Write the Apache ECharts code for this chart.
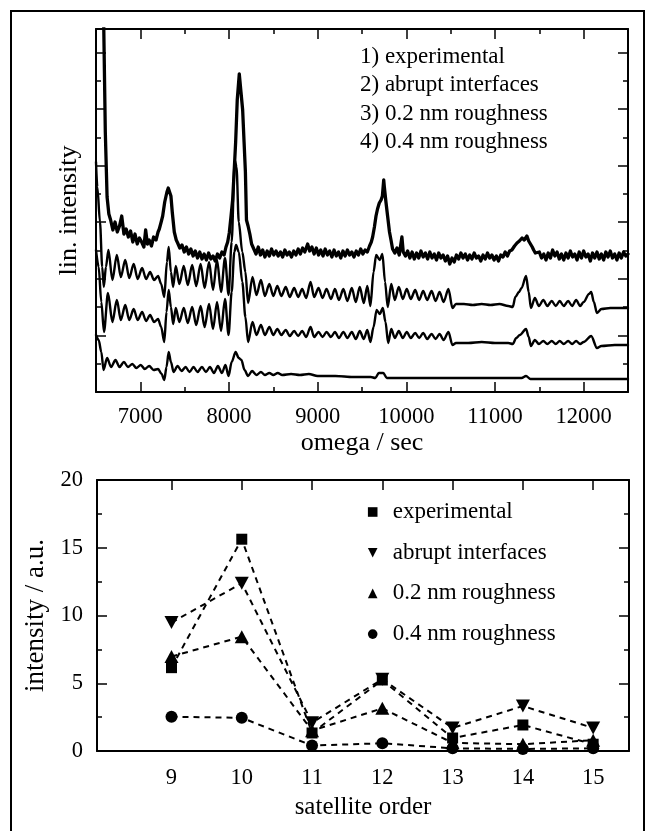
<!DOCTYPE html>
<html><head><meta charset="utf-8">
<script src="https://cdn.jsdelivr.net/npm/echarts@6/dist/echarts.min.js"></script>
<style>html,body{margin:0;padding:0;background:#fff}#c{width:647px;height:831px}</style>
</head><body><div id="c"></div>
<script>
// ---------- top panel: scans (omega / sec, linear intensity in arbitrary units) ----------
const scanLabels = ['1) experimental', '2) abrupt interfaces', '3) 0.2 nm roughness', '4) 0.4 nm roughness'];
const omegaMajorTicks = [7000, 8000, 9000, 10000, 11000, 12000];
const omegaMinorTicks = [7500, 8500, 9500, 10500, 11500];
const intensityMajorTicks = [56.6, 113.2, 169.8, 226.4, 283, 339.6];
const intensityMinorTicks = [28.3, 84.9, 141.5, 198.1, 254.7, 311.3];

const scanExperimental = [
[6500,520],[6560,470],[6585,380],[6605,260],[6625,195],[6645,178],[6665,172],
[6690,162],[6715,170],[6740,160],[6765,166],[6790,176],[6815,158],[6840,163],[6865,155],[6890,161],[6915,150],
[6940,158],[6965,148],[6990,154],[7015,150],[7040,145],[7060,162],[7080,148],[7100,152],[7125,146],[7150,155],
[7177,152],[7200,160],[7214,163],[7235,170],[7252,176],[7275,190],[7300,200],[7315,204],[7330,200],[7345,196],
[7360,180],[7383,160],[7405,152],[7421,149],[7445,144],[7470,147],[7495,140],[7520,145],[7545,138],[7570,143],
[7595,136],[7620,141],[7645,134],[7670,140],[7695,133],[7720,138],[7745,132],[7770,139],[7795,133],[7820,136],
[7845,131],[7870,138],[7895,134],[7920,140],[7945,137],[7966,145],[7985,150],[8003,159],[8022,175],[8041,192],
[8059,222],[8075,250],[8093,292],[8116,318],[8135,300],[8154,282],[8170,250],[8185,220],[8197,172],[8215,166],
[8235,158],[8255,148],[8280,143],[8305,138],[8330,145],[8355,137],[8380,142],[8405,135],[8430,141],[8455,136],
[8480,143],[8505,137],[8530,141],[8555,136],[8580,140],[8605,135],[8630,142],[8655,137],[8680,140],[8705,135],
[8730,141],[8755,137],[8780,143],[8805,138],[8830,144],[8855,140],[8887,148],[8910,141],[8935,145],[8960,138],
[8985,144],[9010,137],[9035,142],[9060,136],[9085,143],[9110,137],[9135,141],[9160,135],[9185,142],[9210,136],
[9235,140],[9260,134],[9285,141],[9310,136],[9335,142],[9360,137],[9385,140],[9410,135],[9435,141],[9460,137],
[9485,143],[9510,138],[9535,142],[9560,140],[9585,146],[9605,150],[9620,155],[9640,165],[9658,176],[9675,183],
[9695,189],[9715,192],[9730,196],[9745,212],[9752,205],[9770,190],[9790,175],[9810,160],[9827,152],[9845,143],
[9870,139],[9895,144],[9920,137],[9950,155],[9965,140],[9990,136],[10015,141],[10040,134],[10065,140],[10090,133],
[10115,139],[10140,134],[10165,141],[10190,135],[10215,139],[10240,133],[10265,140],[10290,134],[10315,138],[10340,132],
[10365,139],[10390,134],[10415,137],[10440,131],[10465,136],[10490,128],[10515,134],[10540,130],[10565,137],[10590,133],
[10615,139],[10640,134],[10665,138],[10690,132],[10715,137],[10740,133],[10765,139],[10790,134],[10815,136],[10840,131],
[10865,137],[10890,133],[10915,139],[10940,134],[10965,137],[10990,132],[11015,136],[11040,131],[11065,137],[11090,135],
[11115,140],[11140,136],[11165,141],[11190,142],[11220,146],[11248,149],[11275,151],[11305,154],[11330,152],[11360,156],
[11380,151],[11398,150],[11420,145],[11436,142],[11455,139],[11474,137],[11500,140],[11525,134],[11550,138],[11575,132],
[11600,139],[11625,134],[11650,142],[11675,136],[11700,140],[11725,133],[11750,138],[11775,132],[11800,139],[11825,134],
[11850,141],[11875,135],[11900,138],[11925,132],[11950,140],[11975,134],[12000,141],[12025,135],[12050,138],[12075,131],
[12100,139],[12125,134],[12150,140],[12175,133],[12200,138],[12225,132],[12250,140],[12275,135],[12300,141],[12325,134],
[12350,138],[12375,132],[12400,139],[12425,134],[12450,140],[12475,136],[12500,138]
];

const scanAbrupt = [
[6500,230],[6515,205],[6545,170],[6570,125],[6588,105],[6612,125],[6640,142],
[6685,112],[6735,137],[6780,115],[6830,132],[6875,114],[6925,128],[6970,113],[7020,124],[7065,113],[7110,120],
[7155,112],[7200,116],[7235,108],[7270,95],[7300,130],[7320,145],[7345,120],[7370,105],
[7400,126],[7440,108],[7490,126],[7535,107],[7585,127],[7630,106],[7680,128],[7725,104],[7775,130],[7820,102],
[7865,132],[7910,100],[7955,134],[7995,97],[8030,150],[8065,232],[8085,225],[8110,170],[8150,140],[8185,120],
[8215,89],[8265,115],[8310,97],[8360,112],[8405,96],[8455,108],[8500,96],[8545,106],[8590,96],[8640,105],
[8685,95],[8735,104],[8780,95],[8825,103],[8870,94],[8920,110],[8960,95],[9010,104],[9055,94],[9100,103],
[9150,93],[9195,103],[9240,92],[9290,103],[9335,91],[9385,104],[9430,90],[9475,105],[9520,89],[9560,106],
[9595,86],[9630,120],[9660,137],[9700,132],[9730,138],[9760,110],[9790,85],[9830,108],[9870,92],[9915,105],
[9960,93],[10005,103],[10050,93],[10100,102],[10145,92],[10190,101],[10235,92],[10285,101],[10330,91],[10375,100],
[10420,90],[10475,103],[10520,84],[10560,88],[10650,88],[10750,87],[10850,88],[10950,87],[11050,88],[11150,86],
[11200,85],[11230,95],[11270,100],[11300,104],[11350,116],[11380,100],[11405,84],[11450,94],[11495,86],[11545,92],
[11590,86],[11640,91],[11685,86],[11730,91],[11775,86],[11825,91],[11870,86],[11915,92],[11960,86],[12000,90],
[12060,98],[12085,100],[12115,90],[12150,79],[12200,83],[12300,84],[12400,84],[12500,84]
];

const scanRough02 = [
[6500,142],[6530,125],[6560,90],[6590,60],[6635,99],
[6685,70],[6735,92],[6780,72],[6830,87],[6875,72],[6925,83],[6970,72],[7020,80],[7065,71],[7110,77],
[7155,70],[7200,73],[7235,65],[7270,50],[7295,80],[7320,102],[7345,85],[7370,68],
[7400,84],[7440,70],[7490,84],[7535,69],[7585,85],[7630,67],[7680,86],[7725,65],[7775,88],[7820,63],
[7865,90],[7910,61],[7955,93],[7995,57],[8030,100],[8060,140],[8080,147],[8110,140],[8150,110],[8185,75],
[8215,50],[8265,70],[8310,57],[8360,67],[8405,57],[8455,65],[8500,57],[8545,63],[8590,57],[8640,62],
[8685,56],[8735,61],[8780,56],[8825,61],[8870,55],[8920,65],[8960,55],[9010,60],[9055,55],[9100,60],
[9150,55],[9195,60],[9240,54],[9290,60],[9335,54],[9385,60],[9430,53],[9475,61],[9520,53],[9560,62],
[9595,50],[9630,65],[9665,82],[9700,78],[9735,84],[9765,70],[9795,49],[9830,63],[9870,54],[9915,61],
[9960,54],[10005,60],[10050,54],[10100,59],[10145,54],[10190,59],[10235,53],[10285,58],[10330,53],[10375,58],
[10420,52],[10475,60],[10520,47],[10560,49],[10700,49],[10850,50],[11000,49],[11150,49],[11200,48],
[11240,54],[11280,57],[11350,63],[11380,55],[11405,46],[11450,52],[11495,48],[11545,51],[11590,48],[11640,51],
[11685,48],[11730,51],[11775,48],[11825,51],[11870,48],[11915,51],[11960,48],[12000,50],[12085,56],[12150,44],
[12200,46],[12350,47],[12500,47]
];

const scanRough04 = [
[6500,57],[6530,52],[6560,40],[6585,22],[6625,34],[6670,25],[6720,32],[6765,25],[6815,30],[6860,25],
[6910,28],[6955,24],[7005,27],[7050,23],[7100,26],[7150,22],[7200,23],[7240,18],[7270,12],[7295,25],
[7320,40],[7345,30],[7375,20],[7420,26],[7465,21],[7510,25],[7555,20],[7600,25],[7645,20],[7695,25],
[7740,20],[7785,25],[7830,19],[7875,26],[7920,19],[7960,27],[7995,16],[8030,30],[8075,40],[8110,34],
[8140,32],[8175,22],[8215,16],[8260,21],[8310,17],[8360,20],[8405,17],[8455,19],[8500,17],[8550,19],
[8600,17],[8700,18],[8800,17],[8900,18],[9000,16],[9200,16],[9400,15],[9600,15],[9650,14],[9690,19],
[9740,19],[9780,14],[9850,14],[10000,14],[10500,14],[11000,14],[11300,14],[11350,16],[11400,13],[12000,13],
[12500,13]
];

// ---------- bottom panel: satellite intensities ----------
const satelliteOrder = [9, 10, 11, 12, 13, 14, 15];
const seriesNames = ['experimental', 'abrupt interfaces', '0.2 nm roughness', '0.4 nm roughness'];
const satExperimental = [6.15, 15.63, 1.33, 5.24, 0.96, 1.92, 0.5];
const satAbrupt       = [9.48, 12.38, 2.09, 5.3, 1.7, 3.32, 1.7];
const satRough02      = [6.97, 8.44, 1.5, 3.15, 0.6, 0.5, 0.8];
const satRough04      = [2.53, 2.45, 0.4, 0.57, 0.2, 0.15, 0.2];

// ---------- styling ----------
const FONT = "'Liberation Serif', 'Times New Roman', serif";
const BLACK = '#000';
const lineAx = {show: true, onZero: false, lineStyle: {color: BLACK, width: 2}};
const noLine = {show: false, onZero: false};
const tick = (len, values) => ({show: true, inside: true, length: len, customValues: values, lineStyle: {color: BLACK, width: 1.5}});
const noLabel = {show: false};
const nameStyle = size => ({fontFamily: FONT, fontSize: size, color: BLACK});
const labelStyle = {fontFamily: FONT, fontSize: 22.5, color: BLACK};
const plain = v => String(v);

function topX(pos, line, t) {
  return {gridIndex: 0, type: 'value', position: pos, min: 6500, max: 12500,
    axisLine: line ? lineAx : noLine, axisTick: t, axisLabel: noLabel, splitLine: {show: false}};
}
function topY(pos, line, t) {
  return {gridIndex: 0, type: 'value', position: pos, min: 0, max: 363,
    axisLine: line ? lineAx : noLine, axisTick: t, axisLabel: noLabel, splitLine: {show: false}};
}

const xAxes = [
  Object.assign(topX('bottom', true, tick(10, omegaMajorTicks)), {
    axisLabel: Object.assign({show: true, customValues: omegaMajorTicks, margin: 14, formatter: plain}, labelStyle),
    name: 'omega / sec', nameLocation: 'middle', nameGap: 38, nameTextStyle: nameStyle(26)}),
  topX('bottom', false, tick(5, omegaMinorTicks)),
  topX('top', true, tick(10, omegaMajorTicks)),
  topX('top', false, tick(5, omegaMinorTicks)),
  {gridIndex: 1, type: 'value', position: 'bottom', min: 7.94, max: 15.51,
    axisLine: lineAx, axisTick: {show: false},
    axisLabel: Object.assign({show: true, customValues: satelliteOrder, margin: 16, formatter: plain}, labelStyle),
    splitLine: {show: false},
    name: 'satellite order', nameLocation: 'middle', nameGap: 44, nameTextStyle: nameStyle(25)},
  {gridIndex: 1, type: 'value', position: 'top', min: 7.94, max: 15.51,
    axisLine: lineAx, axisTick: tick(10, satelliteOrder), axisLabel: noLabel, splitLine: {show: false}}
];

const yAxes = [
  Object.assign(topY('left', true, tick(10, intensityMajorTicks)), {
    name: 'lin. intensity', nameLocation: 'middle', nameGap: 14, nameRotate: 90, nameTextStyle: nameStyle(26)}),
  topY('left', false, tick(5, intensityMinorTicks)),
  topY('right', true, tick(10, intensityMajorTicks)),
  topY('right', false, tick(5, intensityMinorTicks)),
  {gridIndex: 1, type: 'value', position: 'left', min: 0, max: 20, interval: 5,
    axisLine: lineAx, axisTick: {show: true, inside: true, length: 10, lineStyle: {color: BLACK, width: 1.5}},
    minorTick: {show: true, splitNumber: 2, length: 5, lineStyle: {color: BLACK, width: 1.5}},
    axisLabel: Object.assign({show: true, margin: 14, formatter: plain}, labelStyle), splitLine: {show: false},
    name: 'intensity / a.u.', nameLocation: 'middle', nameGap: 48, nameRotate: 90, nameTextStyle: nameStyle(27)},
  {gridIndex: 1, type: 'value', position: 'right', min: 0, max: 20, interval: 5,
    axisLine: lineAx, axisTick: {show: true, inside: true, length: 10, lineStyle: {color: BLACK, width: 1.5}},
    minorTick: {show: true, splitNumber: 2, length: 5, lineStyle: {color: BLACK, width: 1.5}},
    axisLabel: noLabel, splitLine: {show: false}}
];

function scanSeries(name, data, width, smooth) {
  return {type: 'line', name: name, xAxisIndex: 0, yAxisIndex: 0, data: data, symbol: 'none',
    smooth: smooth, smoothMonotone: 'x',
    lineStyle: {color: BLACK, width: width, join: 'round', cap: 'round'}, clip: true, animation: false, silent: true};
}
const zip = vals => satelliteOrder.map((o, i) => [o, vals[i]]);
function satSeries(name, vals, symbol, size) {
  return {type: 'line', name: name, xAxisIndex: 4, yAxisIndex: 4, data: zip(vals),
    symbol: symbol, symbolSize: size, showSymbol: true,
    itemStyle: {color: BLACK, borderWidth: 0},
    lineStyle: {color: BLACK, width: 2, type: [6, 5]}, animation: false, silent: true};
}

const option = {
  backgroundColor: '#fff',
  animation: false,
  textStyle: {fontFamily: FONT},
  grid: [
    {left: 96, top: 29, width: 532, height: 363},
    {left: 97, top: 480, width: 532, height: 271}
  ],
  xAxis: xAxes,
  yAxis: yAxes,
  legend: {
    data: seriesNames, orient: 'vertical', left: 357.7, top: 499, padding: 0,
    itemWidth: 30, itemHeight: 12, itemGap: 14.7, selectedMode: false,
    lineStyle: {opacity: 0, width: 0},
    textStyle: {fontFamily: FONT, fontSize: 23, color: BLACK, lineHeight: 26}
  },
  series: [
    scanSeries(scanLabels[0], scanExperimental, 3.3, false),
    scanSeries(scanLabels[1], scanAbrupt, 2.4, 0.3),
    scanSeries(scanLabels[2], scanRough02, 2.4, 0.3),
    scanSeries(scanLabels[3], scanRough04, 2.4, 0.3),
    satSeries(seriesNames[0], satExperimental, 'rect', 11),
    satSeries(seriesNames[1], satAbrupt, 'path://M0,0L12,0L6,11Z', [14, 13]),
    satSeries(seriesNames[2], satRough02, 'triangle', [14, 13]),
    satSeries(seriesNames[3], satRough04, 'circle', 12)
  ],
  graphic: [
    {type: 'rect', silent: true, shape: {x: 11, y: 11, width: 633, height: 840},
      style: {fill: 'none', stroke: BLACK, lineWidth: 2}}
  ].concat(scanLabels.map((t, i) => ({
    type: 'text', silent: true, x: 360, y: 57 + i * 28.3,
    style: {text: t, fill: BLACK, fontFamily: FONT, fontSize: 23, verticalAlign: 'middle', align: 'left'}
  })))
};

const chart = echarts.init(document.getElementById('c'));
chart.setOption(option);
</script></body></html>
